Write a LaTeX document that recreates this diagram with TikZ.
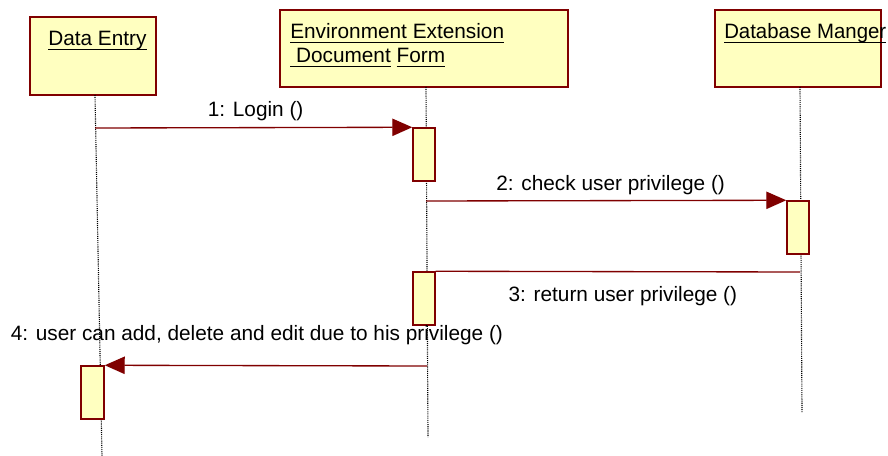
\documentclass[tikz,border=0pt]{standalone}
\usepackage{fontspec}
\setmainfont{Liberation Sans}
\usepackage{graphicx}
\usetikzlibrary{arrows.meta}
\definecolor{umlred}{RGB}{128,0,0}
\definecolor{umlfill}{RGB}{255,255,192}
\newsavebox\ulbox
\newcommand\uword[1]{\sbox\ulbox{#1}\rlap{\rule[-3.1pt]{\wd\ulbox}{0.8pt}}\usebox\ulbox}
\tikzset{
  objbox/.style={draw=umlred, fill=umlfill, line width=1.1pt, inner sep=0pt},
  actbar/.style={draw=umlred, fill=umlfill, line width=1.1pt, inner sep=0pt, minimum width=16.5pt, minimum height=39.75pt},
  lifeline/.style={line width=0.85pt, dash pattern=on 0.8pt off 0.8pt},
  msg/.style={draw=umlred, line width=1pt, -{Triangle[length=15pt,width=13pt]}},
  reply/.style={draw=umlred, line width=1pt},
  txt/.style={inner sep=0pt, anchor=base west, font=\fontsize{15.6}{18.7}\selectfont},
  msglabel/.style={inner sep=0pt, anchor=base, font=\fontsize{15.6}{18.7}\selectfont}
}

\begin{document}
\begin{tikzpicture}[x=0.75pt, y=-0.75pt]
    \useasboundingbox (0,0) rectangle (888,456);
    % objects
    \node[objbox, minimum width=94.5pt, minimum height=58.5pt] (entry) at (93,56) {};
    \node[objbox, minimum width=216pt, minimum height=57.75pt] (form) at (424,48.5) {};
    \node[objbox, minimum width=124.5pt, minimum height=57.75pt] (dbase) at (798,48.5) {};
    \node[txt] (entrytxt) at (48,46) {\uword{Data Entry}};
    \node[txt] (formtxt) at (290,39) {\uword{Environment Extension}};
    \node[txt] (formtxtb) at (290,63) {\uword{\ Document}\ \uword{Form}};
    \node[txt] (dbasetxt) at (724,39) {\scalebox{0.98}[1]{\uword{Database Manger}}};
    % lifelines
    \coordinate (entrytop) at (95,95);
    \coordinate (entryend) at (102,456);
    \coordinate (formtop) at (426,87);
    \coordinate (formend) at (428,437);
    \coordinate (dbasetop) at (800,87);
    \coordinate (dbaseend) at (802,412);
    \draw[lifeline] (entrytop) -- (entryend);
    \draw[lifeline] (formtop) -- (formend);
    \draw[lifeline] (dbasetop) -- (dbaseend);
    % activations
    \node[actbar] (act1) at (424,154.5) {};
    \node[actbar] (act2) at (798,227.5) {};
    \node[actbar] (act3) at (424,298.5) {};
    \node[actbar, minimum width=17.25pt] (act4) at (92.5,392.5) {};
    % messages
    \coordinate (m1) at (95,128);
    \coordinate (m2) at (426,201);
    \coordinate (m3) at (800,272);
    \coordinate (m4) at (427,366);
    \draw[msg] (m1) -- (act1.north west) node[midway, msglabel, yshift=8pt, xshift=1.5pt] (lbl1) {1: Login ()};
    \draw[msg] (m2) -- (act2.north west) node[midway, msglabel, yshift=7.5pt, xshift=3.4pt] (lbl2) {2: check user privilege ()};
    \draw[reply] (m3) -- (act3.north east) node[midway, msglabel, yshift=-22.5pt, xshift=3.75pt] (lbl3) {3: return user privilege ()};
    \draw[msg] (m4) -- (act4.north east) node[midway, msglabel, yshift=18.75pt, xshift=-6.75pt] (lbl4) {4: user can add, delete and edit due to his privilege ()};
\end{tikzpicture}
\end{document}
